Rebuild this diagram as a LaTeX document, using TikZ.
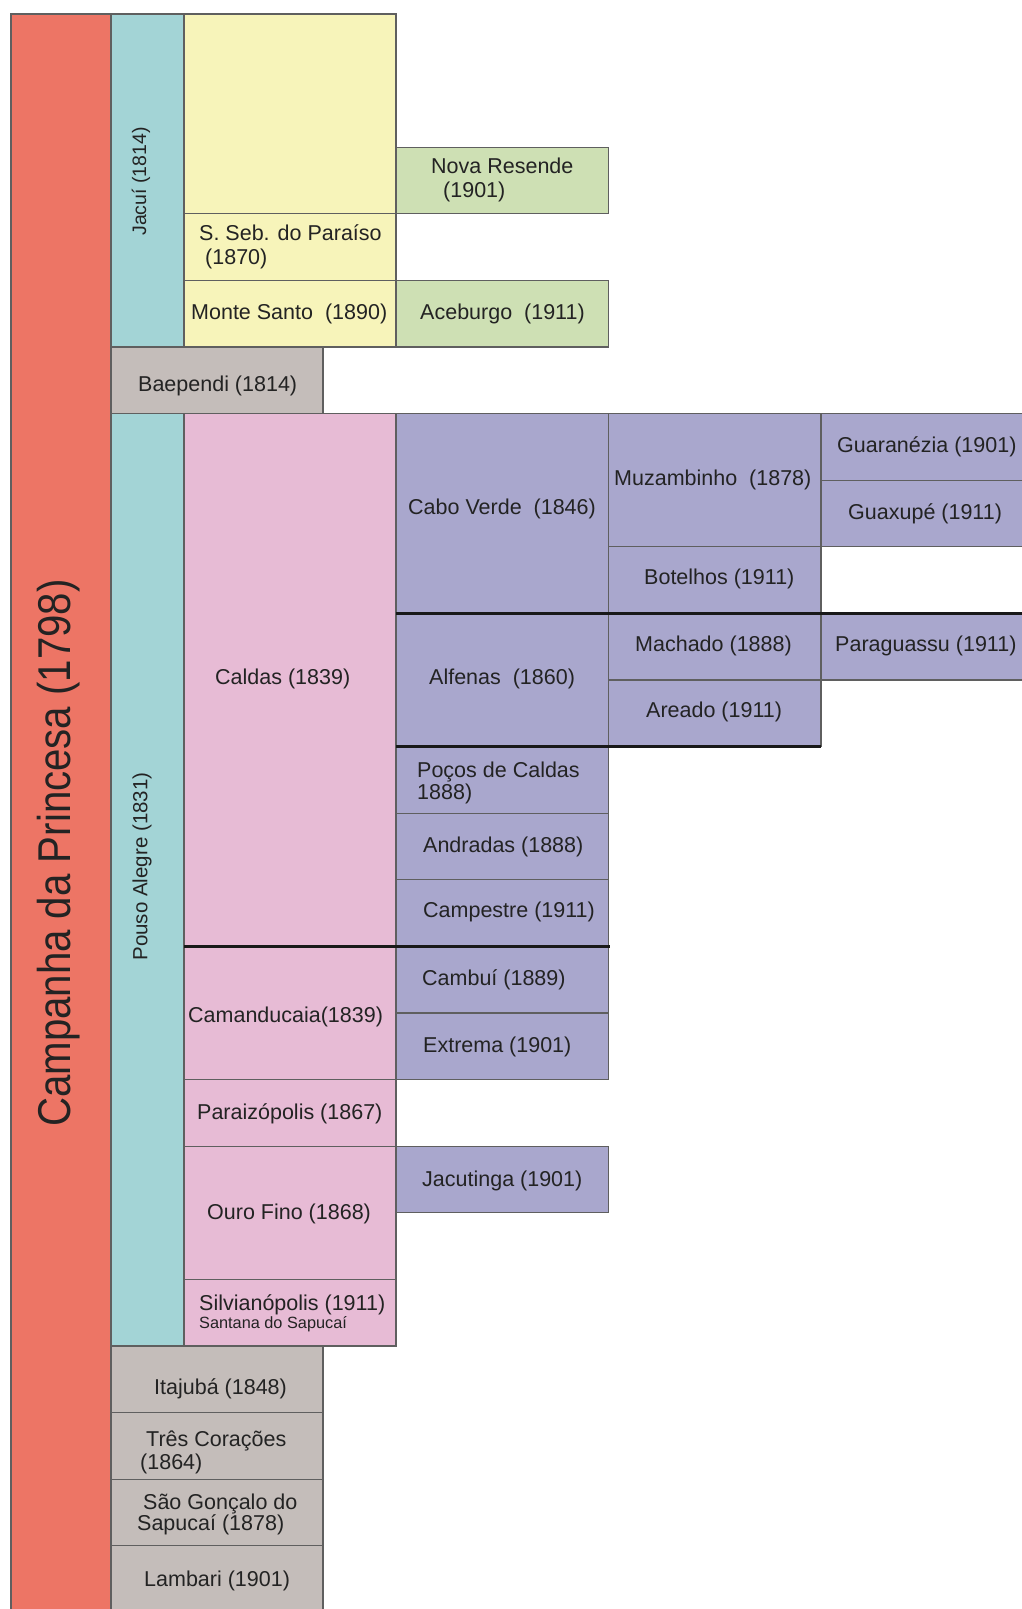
\documentclass[tikz,border=0pt]{standalone}
\usepackage{fontspec}
\setmainfont{Liberation Sans}
\usepackage{graphicx}
\definecolor{cred}{RGB}{237,117,101}
\definecolor{cteal}{RGB}{163,212,214}
\definecolor{cyel}{RGB}{247,244,186}
\definecolor{cgreen}{RGB}{206,224,180}
\definecolor{cgray}{RGB}{196,189,186}
\definecolor{cpink}{RGB}{231,187,213}
\definecolor{cpurp}{RGB}{169,167,205}
\definecolor{bordercol}{RGB}{95,95,95}
\definecolor{txtcol}{RGB}{35,35,35}
\begin{document}
\begin{tikzpicture}[x=1pt,y=-1pt,
  cell/.style={draw=bordercol, line width=1.2pt},
  lab/.style={anchor=base west, inner sep=0pt, text=txtcol, font=\fontsize{21.5}{23.5}\selectfont},
  smalllab/.style={anchor=base west, inner sep=0pt, text=txtcol, font=\fontsize{16.3}{18}\selectfont},
  vlab/.style={rotate=90, inner sep=0pt, text=txtcol},
  sepline/.style={line width=3.2pt, draw=black!90}]
\useasboundingbox (0,0) rectangle (1022,1609);
\clip (0,0) rectangle (1022,1609);
\fill[white] (0,0) rectangle (1022,1609);
% row boundaries
\def\ya{14}\def\yb{80.6}\def\yc{147.2}\def\yd{213.8}\def\ye{280.4}\def\yf{347}
\def\yg{413.6}\def\yh{480.2}\def\yi{546.8}\def\yj{613.4}\def\yk{680}\def\yl{746.6}
\def\ym{813.2}\def\yn{879.8}\def\yo{946.4}\def\yp{1013}\def\yq{1079.6}\def\yr{1146.2}
\def\ys{1212.8}\def\yt{1279.4}\def\yu{1346}\def\yv{1412.6}\def\yw{1479.2}\def\yx{1545.8}
\def\yz{1625}
% column boundaries
\def\xa{11}\def\xb{111}\def\xc{184}\def\xd{396}\def\xe{608.5}\def\xf{821}\def\xg{1032}\def\xgr{323}
% red
\filldraw[cell, fill=cred] (\xa,\ya) rectangle (\xb,\yz);
% Jacui group
\filldraw[cell, fill=cteal] (\xb,\ya) rectangle (\xc,\yf);
\filldraw[cell, fill=cyel] (\xc,\ya) rectangle (\xd,\yd);
\filldraw[cell, fill=cyel] (\xc,\yd) rectangle (\xd,\ye);
\filldraw[cell, fill=cyel] (\xc,\ye) rectangle (\xd,\yf);
\filldraw[cell, fill=cgreen] (\xd,\yc) rectangle (\xe,\yd);
\filldraw[cell, fill=cgreen] (\xd,\ye) rectangle (\xe,\yf);
% Baependi
\filldraw[cell, fill=cgray] (\xb,\yf) rectangle (\xgr,\yg);
% Pouso Alegre group
\filldraw[cell, fill=cteal] (\xb,\yg) rectangle (\xc,\yu);
\filldraw[cell, fill=cpink] (\xc,\yg) rectangle (\xd,\yo);
\filldraw[cell, fill=cpink] (\xc,\yo) rectangle (\xd,\yq);
\filldraw[cell, fill=cpink] (\xc,\yq) rectangle (\xd,\yr);
\filldraw[cell, fill=cpink] (\xc,\yr) rectangle (\xd,\yt);
\filldraw[cell, fill=cpink] (\xc,\yt) rectangle (\xd,\yu);
% purple cells
\filldraw[cell, fill=cpurp] (\xd,\yg) rectangle (\xe,\yj);
\filldraw[cell, fill=cpurp] (\xe,\yg) rectangle (\xf,\yi);
\filldraw[cell, fill=cpurp] (\xf,\yg) rectangle (\xg,\yh);
\filldraw[cell, fill=cpurp] (\xf,\yh) rectangle (\xg,\yi);
\filldraw[cell, fill=cpurp] (\xe,\yi) rectangle (\xf,\yj);
\filldraw[cell, fill=cpurp] (\xd,\yj) rectangle (\xe,\yl);
\filldraw[cell, fill=cpurp] (\xe,\yj) rectangle (\xf,\yk);
\filldraw[cell, fill=cpurp] (\xf,\yj) rectangle (\xg,\yk);
\filldraw[cell, fill=cpurp] (\xe,\yk) rectangle (\xf,\yl);
\filldraw[cell, fill=cpurp] (\xd,\yl) rectangle (\xe,\ym);
\filldraw[cell, fill=cpurp] (\xd,\ym) rectangle (\xe,\yn);
\filldraw[cell, fill=cpurp] (\xd,\yn) rectangle (\xe,\yo);
\filldraw[cell, fill=cpurp] (\xd,\yo) rectangle (\xe,\yp);
\filldraw[cell, fill=cpurp] (\xd,\yp) rectangle (\xe,\yq);
\filldraw[cell, fill=cpurp] (\xd,\yr) rectangle (\xe,\ys);
% gray bottom cells
\filldraw[cell, fill=cgray] (\xb,\yu) rectangle (\xgr,\yv);
\filldraw[cell, fill=cgray] (\xb,\yv) rectangle (\xgr,\yw);
\filldraw[cell, fill=cgray] (\xb,\yw) rectangle (\xgr,\yx);
\filldraw[cell, fill=cgray] (\xb,\yx) rectangle (\xgr,\yz);
% thick separators
\draw[sepline] (\xd,\yj) -- (\xg,\yj);
\draw[sepline] (\xd,\yl) -- (\xf,\yl);
\draw[sepline] (\xc,\yo) -- (610,\yo);
% rotated labels
\node[vlab, font=\fontsize{46}{50}\selectfont] (campanha) at (59,853) {\scalebox{0.874}[1]{Campanha da Princesa (1798)}};
\node[vlab, font=\fontsize{19.5}{22}\selectfont] (jacui) at (141,181.5) {Jacuí (1814)};
\node[vlab, font=\fontsize{20.5}{23}\selectfont] (pouso) at (142,866.5) {Pouso Alegre (1831)};
% labels
\node[lab] (nova1) at (431,173) {Nova Resende};
\node[lab] (nova2) at (443,197) {(1901)};
\node[lab] (sseb1) at (199,240) {S. Seb. do Paraíso};
\node[lab] (sseb2) at (205,264) {(1870)};
\node[lab] (monte) at (191,319) {Monte Santo\ \ (1890)};
\node[lab] (aceburgo) at (420,319) {Aceburgo\ \ (1911)};
\node[lab] (baependi) at (138,391) {Baependi (1814)};
\node[lab] (caldas) at (215,684) {Caldas (1839)};
\node[lab] (cabo) at (408,514) {Cabo Verde\ \ (1846)};
\node[lab] (muzamb) at (614,485) {Muzambinho\ \ (1878)};
\node[lab] (guaran) at (837,452) {Guaranézia (1901)};
\node[lab] (guaxupe) at (848,519) {Guaxupé (1911)};
\node[lab] (botelhos) at (644,584) {Botelhos (1911)};
\node[lab] (machado) at (635,651) {Machado (1888)};
\node[lab] (paraguassu) at (835,651) {Paraguassu (1911)};
\node[lab] (alfenas) at (429,684) {Alfenas\ \ (1860)};
\node[lab] (areado) at (646,717) {Areado (1911)};
\node[lab] (pocos1) at (417,777) {Poços de Caldas};
\node[lab] (pocos2) at (417,799) {1888)};
\node[lab] (andradas) at (423,852) {Andradas (1888)};
\node[lab] (campestre) at (423,917) {Campestre (1911)};
\node[lab] (cambui) at (422,985) {Cambuí (1889)};
\node[lab] (extrema) at (423,1052) {Extrema (1901)};
\node[lab] (camand) at (188,1022) {Camanducaia(1839)};
\node[lab] (paraiz) at (197,1119) {Paraizópolis (1867)};
\node[lab] (ourofino) at (207,1219) {Ouro Fino (1868)};
\node[lab] (jacutinga) at (422,1186) {Jacutinga (1901)};
\node[lab] (silvian) at (199,1310) {Silvianópolis (1911)};
\node[smalllab] (santana) at (199,1328) {Santana do Sapucaí};
\node[lab] (itajuba) at (154,1394) {Itajubá (1848)};
\node[lab] (tres1) at (146,1446) {Três Corações};
\node[lab] (tres2) at (140,1469) {(1864)};
\node[lab] (sao1) at (143,1509) {São Gonçalo do};
\node[lab] (sao2) at (137,1530) {Sapucaí (1878)};
\node[lab] (lambari) at (144,1586) {Lambari (1901)};
\end{tikzpicture}
\end{document}
